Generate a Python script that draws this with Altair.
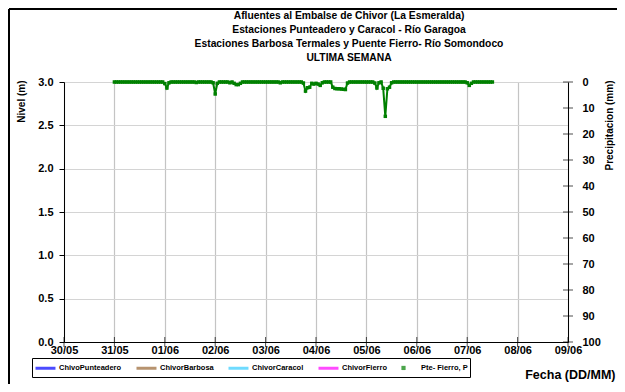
import altair as alt
import pandas as pd

# ---------------- data ----------------
dias = ["2024-05-31", "2024-06-01", "2024-06-02", "2024-06-03",
        "2024-06-04", "2024-06-05", "2024-06-06", "2024-06-07"]

# hourly precipitation (mm) at Pte- Fierro, hours 0..23
p_3105 = [0, 0, 0, 0, 0, 0, 0, 0, 0, 0, 0, 0, 0, 0, 0, 0, 0, 0, 0, 0, 0, 0, 0, 0]
p_0106 = [0.6, 2.3, 0.3, 0, 0, 0, 0, 0, 0, 0, 0, 0, 0, 0, 0, 0.2, 0, 0, 0, 0, 0, 0, 0, 0.3]
p_0206 = [4.6, 0.5, 0, 0, 0, 0, 0, 0.3, 0, 0.5, 1.0, 1.0, 0.5, 0, 0, 0, 0, 0, 0, 0, 0, 0, 0, 0]
p_0306 = [0, 0, 0, 0, 0, 0, 0, 0.3, 0, 0, 0, 0, 0, 0, 0, 0, 0, 0, 0.4, 3.5, 2.2, 2.0, 0.5, 0.8]
p_0406 = [0.5, 0.8, 1.3, 0.3, 0, 0, 0, 0, 2.0, 2.5, 2.6, 2.6, 2.7, 2.8, 2.9, 0.4, 0, 0, 0, 0, 0, 0, 0, 0]
p_0506 = [0, 0, 0, 0, 0.4, 2.3, 0.3, 0, 2.4, 13.2, 2.6, 2.0, 0.3, 0, 0, 0, 0, 0, 0, 0, 0, 0, 0, 0]
p_0606 = [0, 0, 0, 0, 0, 0, 0, 0, 0, 0, 0, 0, 0, 0, 0, 0, 0, 0, 0, 0, 0, 0, 0, 0]
p_0706 = [0.3, 1.3, 0.5, 0, 0, 0, 0, 0, 0, 0, 0, 0, 0]

# level series (m): no readings in the week
nivel_punteadero = []
nivel_barbosa = []
nivel_caracol = []
nivel_fierro = []

series_names = ["ChivoPunteadero", "ChivorBarbosa", "ChivorCaracol",
                "ChivorFierro", "Pte- Fierro, P"]
series_colors = ["#0000FF", "#996633", "#33CCFF", "#FF00FF", "#008000"]

x_tick_dates = [(2024, 5, 30), (2024, 5, 31), (2024, 6, 1), (2024, 6, 2),
                (2024, 6, 3), (2024, 6, 4), (2024, 6, 5), (2024, 6, 6),
                (2024, 6, 7), (2024, 6, 8), (2024, 6, 9)]
nivel_ticks = [0.0, 0.5, 1.0, 1.5, 2.0, 2.5, 3.0]
precip_ticks = [0, 10, 20, 30, 40, 50, 60, 70, 80, 90, 100]

title_lines = ["Afluentes al Embalse de Chivor (La Esmeralda)",
               "Estaciones Punteadero y Caracol - Río Garagoa",
               "Estaciones Barbosa Termales y Puente Fierro- Río Somondoco",
               "ULTIMA SEMANA"]

# ---------------- tables ----------------
rows = []
for dia, vals in zip(dias, [p_3105, p_0106, p_0206, p_0306, p_0406, p_0506, p_0606, p_0706]):
    for h, v in enumerate(vals):
        rows.append({"fecha": f"{dia}T{h:02d}:00:00", "p": v, "serie": "Pte- Fierro, P"})
precip_df = pd.DataFrame(rows)

nrows = []
for name, vals in zip(series_names[:4], [nivel_punteadero, nivel_barbosa, nivel_caracol, nivel_fierro]):
    for f, v in vals:
        nrows.append({"fecha": f, "nivel": v, "serie": name})
nivel_df = pd.DataFrame(nrows, columns=["fecha", "nivel", "serie"])

xt_df = pd.DataFrame({"fecha": [f"{y:04d}-{m:02d}-{d:02d}T00:00:00" for y, m, d in x_tick_dates]})
pt_df = pd.DataFrame({"t": precip_ticks})

# ---------------- styling ----------------
FONT = "Liberation Sans"
W, H = 504, 260
x_domain = [alt.DateTime(year=2024, month=5, date=30), alt.DateTime(year=2024, month=6, date=9)]
x_values = [alt.DateTime(year=y, month=m, date=d) for y, m, d in x_tick_dates]
x_scale = alt.Scale(domain=x_domain)
p_scale = alt.Scale(domain=[0, 100], reverse=True, nice=False)
color_scale = alt.Scale(domain=series_names, range=series_colors)
sq = "M-0.1,-0.1H0.1V0.1H-0.1Z"
ln = "M-1,0H2.33"

x_axis = alt.Axis(values=x_values, format="%d/%m", labelFont=FONT, labelFontWeight="bold",
                  labelFontSize=11, labelColor="black", labelPadding=2, tickSize=0,
                  labelFlush=False, labelOverlap=False,
                  domainColor="black", domainWidth=1, grid=True, gridColor="#c4c4c4",
                  gridWidth=1.2, title="Fecha (DD/MM)", titleFont=FONT, titleFontSize=12.5,
                  titleFontWeight="bold", titleColor="black", titleAlign="right",
                  titleX=551, titleY=32, titleBaseline="middle")

nivel_axis = alt.Axis(values=nivel_ticks, format=".1f", labelFont=FONT, labelFontWeight="bold",
                      labelFontSize=11, labelColor="black", labelPadding=6, tickSize=5,
                      tickColor="black", domainColor="black", grid=True, gridColor="#d4d4d4",
                      gridWidth=1.2, title="Nivel (m)", titleFont=FONT, titleFontSize=10,
                      titleFontWeight="bold", titleColor="black", titleAngle=270,
                      titleAlign="right", titleBaseline="middle", titleX=-43, titleY=-2)

precip_axis = alt.Axis(values=precip_ticks, format="d", orient="right", labelFont=FONT,
                       labelFontWeight="bold", labelFontSize=11, labelColor="black",
                       labelPadding=14, tickSize=0, domainColor="black", grid=False,
                       title="Precipitacion (mm)", titleFont=FONT, titleFontSize=10,
                       titleFontWeight="bold", titleColor="black", titleAngle=270,
                       titleAlign="right", titleBaseline="middle", titleX=41, titleY=-2)

legend = alt.Legend(orient="none", legendX=-32, legendY=276, direction="horizontal",
                    columns=5, title=None, strokeColor="black", padding=2,
                    labelFont=FONT, labelFontSize=7.5, labelFontWeight="bold",
                    labelColor="black", symbolSize=144, symbolStrokeWidth=3,
                    columnPadding=8, labelOffset=10, fillColor="white")

nivel_layer = alt.Chart(nivel_df).mark_line(strokeWidth=2).encode(
    x=alt.X("fecha:T", scale=x_scale, axis=x_axis),
    y=alt.Y("nivel:Q", scale=alt.Scale(domain=[0, 3], nice=False), axis=nivel_axis),
    color=alt.Color("serie:N", scale=color_scale, legend=legend),
)

precip_line = alt.Chart(precip_df).mark_line(color="#008000", strokeWidth=2).encode(
    x=alt.X("fecha:T", scale=x_scale),
    y=alt.Y("p:Q", scale=p_scale, axis=precip_axis),
)

precip_legend_pts = alt.Chart(precip_df).mark_point(filled=False, strokeWidth=2, size=30).encode(
    x=alt.X("fecha:T", scale=x_scale),
    y=alt.Y("p:Q", scale=p_scale, axis=None),
    color=alt.Color("serie:N", scale=color_scale, legend=legend),
    shape=alt.Shape("serie:N", scale=alt.Scale(domain=series_names,
                                               range=[ln, ln, ln, ln, sq]),
                    legend=legend),
)

precip_marks = alt.Chart(precip_df).mark_square(size=12, color="#008000", opacity=1).encode(
    x=alt.X("fecha:T", scale=x_scale),
    y=alt.Y("p:Q", scale=p_scale, axis=None),
)

x_ticks = alt.Chart(xt_df).mark_tick(orient="vertical", size=10, thickness=1, color="black").encode(
    x=alt.X("fecha:T", scale=x_scale),
    y=alt.value(H),
)

p_ticks = alt.Chart(pt_df).mark_tick(orient="horizontal", size=10, thickness=1, color="black").encode(
    y=alt.Y("t:Q", scale=p_scale, axis=None),
    x=alt.value(W),
)

frame_top = alt.Chart(pt_df).mark_rule(color="black", strokeWidth=2).encode(
    x=alt.value(-55), x2=alt.value(W + 50), y=alt.value(-73))
frame_left = alt.Chart(pt_df).mark_rule(color="black", strokeWidth=2).encode(
    x=alt.value(-55), y=alt.value(-73), y2=alt.value(H + 45))

chart = alt.layer(
    nivel_layer, precip_line, precip_legend_pts, precip_marks, x_ticks, p_ticks,
    frame_top, frame_left
).resolve_scale(y="independent").properties(
    width=W, height=H,
    padding={"left": 56, "top": 74, "right": 49, "bottom": 42},
    autosize=alt.AutoSizeParams(type="none"),
    title=alt.TitleParams(text=title_lines, font=FONT, fontSize=10.3, fontWeight="bold",
                          color="black", anchor="middle", frame="group", dx=33, dy=65,
                          baseline="bottom", offset=0, lineHeight=14),
).configure_view(stroke="#808080", strokeWidth=1).configure(background="white")

chart.save("out.html", embed_options={"renderer": "svg", "actions": False})
